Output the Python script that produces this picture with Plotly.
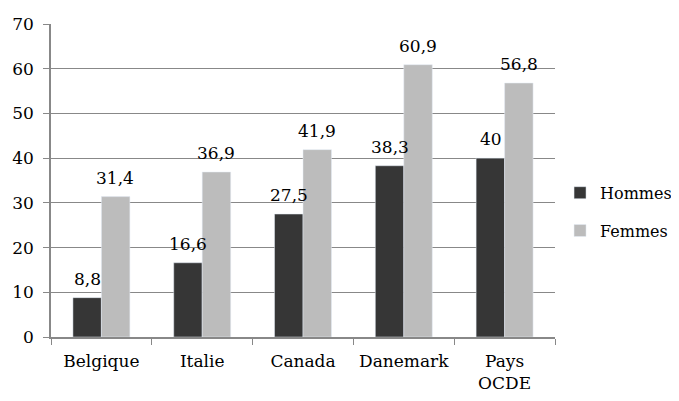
import plotly.graph_objects as go

categories = ["Belgique", "Italie", "Canada", "Danemark", "Pays<br>OCDE"]
hommes = [8.8, 16.6, 27.5, 38.3, 40]
femmes = [31.4, 36.9, 41.9, 60.9, 56.8]
hommes_labels = ["8,8", "16,6", "27,5", "38,3", "40"]
femmes_labels = ["31,4", "36,9", "41,9", "60,9", "56,8"]

FAMILY = "DejaVu Serif"
font = dict(family=FAMILY, size=17, color="#000000")

fig = go.Figure()
fig.add_trace(go.Bar(x=categories, y=hommes, name="Hommes", marker_color="#363636",
                     legendgroup="h"))
fig.add_trace(go.Bar(x=categories, y=femmes, name="Femmes", marker_color="#bcbcbc",
                     legendgroup="f"))

# value labels above bars, drawn on top of all bars
for vals, labels, shift in ((hommes, hommes_labels, -14), (femmes, femmes_labels, 14)):
    for c, v, t in zip(categories, vals, labels):
        fig.add_annotation(x=c, y=v, text=t, showarrow=False, xshift=shift,
                           yanchor="bottom", yshift=7, font=font)

fig.update_layout(
    width=663, height=385,
    margin=dict(l=43, r=116, t=16, b=56, autoexpand=False),
    paper_bgcolor="white", plot_bgcolor="white",
    font=font,
    barmode="group", bargap=0.435, bargroupgap=0,
    legend=dict(x=1.01, y=0.40, xanchor="left", yanchor="middle",
                font=dict(family=FAMILY, size=16, color="#000000"),
                tracegroupgap=14, traceorder="grouped", itemwidth=30),
    showlegend=True,
)
fig.update_yaxes(range=[0, 70], dtick=10, showgrid=True, gridcolor="#888888", gridwidth=1,
                 showline=True, linecolor="#888888", linewidth=1.5,
                 ticks="outside", ticklen=6, tickcolor="#888888", zeroline=False,
                 tickfont=font, automargin=False, ticklabelstandoff=6)
fig.update_xaxes(showline=True, linecolor="#888888", linewidth=1.5,
                 ticks="outside", ticklen=6, tickcolor="#888888", tickson="boundaries",
                 tickfont=font, automargin=False, ticklabelstandoff=8)

fig.write_html("out.html")
